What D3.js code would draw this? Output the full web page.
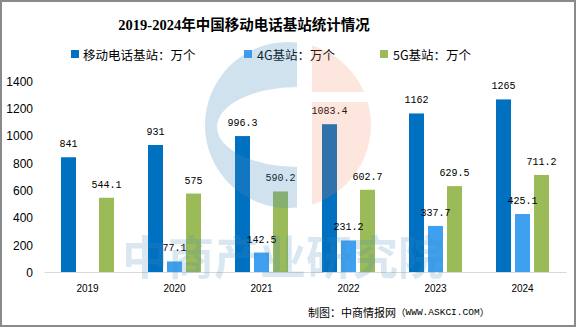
<!DOCTYPE html>
<html>
<head>
<meta charset="utf-8">
<script src="https://cdn.jsdelivr.net/npm/d3@7"></script>
<style>
  body { margin: 0; background: #fff; }
  svg { display: block; }
</style>
</head>
<body>
<div id="chart-area"></div>
<script>
// data
var years = ["2019", "2020", "2021", "2022", "2023", "2024"];
var mobileStations = [841, 931, 996.3, 1083.4, 1162, 1265];
var stations4G = [null, 77.1, 142.5, 231.2, 337.7, 425.1];
var stations5G = [544.1, 575, 590.2, 602.7, 629.5, 711.2];
var seriesNames = ["移动电话基站：万个", "4G基站：万个", "5G基站：万个"];
var seriesColors = ["#0070C0", "#3FA0F0", "#9BBB59"];
var yTicks = [0, 200, 400, 600, 800, 1000, 1200, 1400];

var width = 576, height = 327;
var cjk = "'Noto Sans CJK SC', 'Noto Sans', sans-serif";

var svg = d3.select("#chart-area").append("svg")
    .attr("width", width)
    .attr("height", height);

svg.append("rect")
    .attr("width", width).attr("height", height)
    .attr("fill", "#fff");

// frame
svg.append("rect")
    .attr("x", 1).attr("y", 1)
    .attr("width", width - 2).attr("height", height - 2)
    .attr("fill", "none")
    .attr("stroke", "#8a8a8a")
    .attr("stroke-width", 2);

// title
svg.append("text")
    .attr("x", 244).attr("y", 25)
    .attr("text-anchor", "middle")
    .attr("dominant-baseline", "central")
    .attr("font-family", "'Liberation Serif', " + cjk)
    .attr("font-weight", "bold")
    .attr("font-size", "14.5px")
    .attr("fill", "#000")
    .text("2019-2024年中国移动电话基站统计情况");

// legend
var legendX = [71, 244, 380];
var legend = svg.selectAll(".legend")
    .data(seriesNames)
    .enter().append("g")
    .attr("class", "legend")
    .attr("transform", function(d, i){ return "translate(" + legendX[i] + ",54)"; });
legend.append("rect")
    .attr("x", 0).attr("y", -4)
    .attr("width", 8).attr("height", 8)
    .attr("fill", function(d, i){ return seriesColors[i]; });
legend.append("text")
    .attr("x", function(d, i){ return i == 0 ? 12 : 13; })
    .attr("y", 0)
    .attr("dominant-baseline", "central")
    .attr("font-family", cjk)
    .attr("font-size", "12.5px")
    .attr("fill", "#000")
    .text(function(d){ return d; });

// scales
var x0 = d3.scaleBand()
    .domain(years)
    .range([44, 566]);

var x1 = d3.scaleBand()
    .domain([0, 1, 2])
    .range([17, 70])
    .paddingInner(0.2105);

var y = d3.scaleLinear()
    .domain([0, 1400])
    .range([272, 81]);

// y axis labels (no line, no ticks)
var yAxis = d3.axisLeft(y).tickValues(yTicks).tickFormat(d3.format("d")).tickSize(0).tickPadding(0);
var yg = svg.append("g")
    .attr("transform", "translate(33,0)")
    .call(yAxis);
yg.select(".domain").remove();
yg.selectAll("text")
    .attr("font-family", "'Liberation Sans', sans-serif")
    .attr("font-size", "12px")
    .attr("fill", "#000")
    .attr("dy", "0.36em");

// bars
var rows = years.map(function(yr, i){
    return { year: yr, values: [mobileStations[i], stations4G[i], stations5G[i]] };
});

var groups = svg.selectAll(".grp")
    .data(rows)
    .enter().append("g")
    .attr("class", "grp")
    .attr("transform", function(d){ return "translate(" + x0(d.year) + ",0)"; });

var cells = function(d){
    return d.values.map(function(v, k){ return { k: k, v: v }; })
        .filter(function(c){ return c.v != null; });
};

groups.selectAll("rect")
    .data(cells)
    .enter().append("rect")
    .attr("x", function(c){ return x1(c.k); })
    .attr("y", function(c){ return y(c.v); })
    .attr("width", x1.bandwidth())
    .attr("height", function(c){ return y(0) - y(c.v); })
    .attr("fill", function(c){ return seriesColors[c.k]; });

groups.selectAll(".val")
    .data(cells)
    .enter().append("text")
    .attr("class", "val")
    .attr("x", function(c){ return x1(c.k) + x1.bandwidth() / 2; })
    .attr("y", function(c){ return y(c.v) - 10; })
    .attr("text-anchor", "middle")
    .attr("font-family", "'Liberation Mono', monospace")
    .attr("font-size", "10px")
    .attr("fill", "#000")
    .text(function(c){ return c.v; });

// x axis
var xAxis = d3.axisBottom(x0).tickSize(0).tickPadding(0);
var xg = svg.append("g")
    .attr("transform", "translate(0,272)")
    .call(xAxis);
xg.select(".domain")
    .attr("stroke", "#d9d9d9")
    .attr("stroke-width", 1);
xg.selectAll("text")
    .attr("y", 16)
    .attr("dy", "0.36em")
    .attr("font-family", "'Liberation Sans', sans-serif")
    .attr("font-size", "10px")
    .attr("fill", "#000");

// source
var src = svg.append("text")
    .attr("x", 308).attr("y", 312)
    .attr("dominant-baseline", "central")
    .attr("font-family", cjk)
    .attr("font-size", "11px")
    .attr("fill", "#000");
src.append("tspan").text("制图：中商情报网");
src.append("tspan").attr("font-size", "9.5px").text("（");
src.append("tspan").attr("font-family", "'Liberation Mono', monospace").attr("font-size", "9.5px").text("WWW.ASKCI.COM");
src.append("tspan").attr("font-size", "9.5px").text("）");

// watermark on top, semi transparent
var wm = svg.append("g").attr("pointer-events", "none");
var cx = 288, cy = 125, r = 83;
var clipL = svg.append("defs").append("clipPath").attr("id", "wmL");
clipL.append("rect").attr("x", cx - r - 2).attr("y", cy - r - 2).attr("width", 297 - (cx - r - 2)).attr("height", 2 * r + 4);
var mask = svg.select("defs").append("mask").attr("id", "wmHole");
mask.append("rect").attr("x", 0).attr("y", 0).attr("width", width).attr("height", height).attr("fill", "#fff");
mask.append("ellipse").attr("cx", 298).attr("cy", 127).attr("rx", 81).attr("ry", 40).attr("fill", "#000");
var clipR = svg.select("defs").append("clipPath").attr("id", "wmR");
clipR.append("rect").attr("x", 312).attr("y", cy - r - 2).attr("width", 80).attr("height", 92 - (cy - r - 2));
clipR.append("rect").attr("x", 312).attr("y", 102).attr("width", 80).attr("height", 120);

wm.append("g").attr("mask", "url(#wmHole)")
  .append("circle")
    .attr("cx", cx).attr("cy", cy).attr("r", r)
    .attr("clip-path", "url(#wmL)")
    .attr("fill", "rgb(70,140,190)")
    .attr("opacity", 0.25);
wm.append("circle")
    .attr("cx", cx).attr("cy", cy).attr("r", r)
    .attr("clip-path", "url(#wmR)")
    .attr("fill", "rgb(240,130,90)")
    .attr("opacity", 0.2);

wm.append("text")
    .attr("x", 283).attr("y", 254)
    .attr("text-anchor", "middle")
    .attr("dominant-baseline", "central")
    .attr("font-family", cjk)
    .attr("font-weight", "bold")
    .attr("font-size", "46px")
    .attr("fill", "rgb(70,140,190)")
    .attr("opacity", 0.2)
    .text("中商产业研究院");
</script>
</body>
</html>
